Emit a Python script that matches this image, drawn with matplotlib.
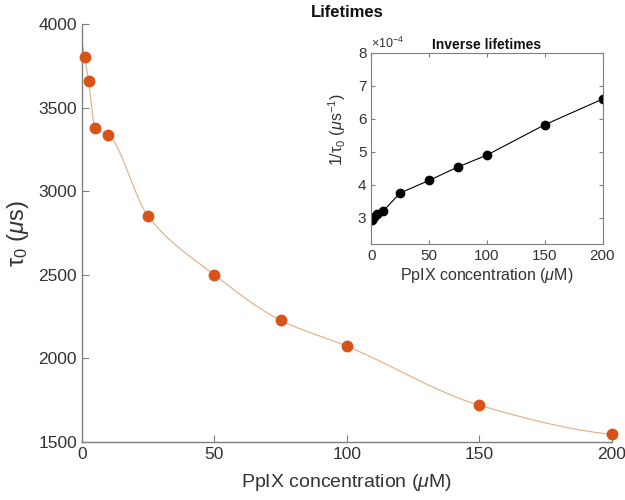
import numpy as np
import matplotlib
matplotlib.use("Agg")
import matplotlib.pyplot as plt

plt.rcParams['font.family'] = ['Liberation Sans', 'DejaVu Sans']
plt.rcParams['mathtext.fontset'] = 'custom'
plt.rcParams['mathtext.rm'] = 'Liberation Sans'
plt.rcParams['mathtext.it'] = 'Liberation Sans:italic'

# Data
conc = [1, 2.5, 5, 10, 25, 50, 75, 100, 150, 200]
tau0 = [3805, 3660, 3380, 3338, 2850, 2500, 2228, 2073, 1720, 1545]
inv_tau = [2.92, 3.02, 3.12, 3.19, 3.75, 4.13, 4.54, 4.90, 5.82, 6.60]  # x 1e-4
main_yticks = [1500, 2000, 2500, 3000, 3500, 4000]
xticks = [0, 50, 100, 150, 200]
inset_yticks = [3, 4, 5, 6, 7, 8]


def pchip(x, y, xn):
    x = np.asarray(x, float); y = np.asarray(y, float)
    h = np.diff(x); d = np.diff(y) / h
    n = len(x); m = np.zeros(n)
    for k in range(1, n - 1):
        if d[k - 1] * d[k] > 0:
            w1 = 2 * h[k] + h[k - 1]; w2 = h[k] + 2 * h[k - 1]
            m[k] = (w1 + w2) / (w1 / d[k - 1] + w2 / d[k])
    m[0] = ((2 * h[0] + h[1]) * d[0] - h[0] * d[1]) / (h[0] + h[1])
    m[-1] = ((2 * h[-1] + h[-2]) * d[-1] - h[-1] * d[-2]) / (h[-1] + h[-2])
    idx = np.clip(np.searchsorted(x, xn) - 1, 0, n - 2)
    t = (xn - x[idx]) / h[idx]
    h00 = 2 * t**3 - 3 * t**2 + 1; h10 = t**3 - 2 * t**2 + t
    h01 = -2 * t**3 + 3 * t**2; h11 = t**3 - t**2
    return h00 * y[idx] + h10 * h[idx] * m[idx] + h01 * y[idx + 1] + h11 * h[idx] * m[idx + 1]


fig = plt.figure(figsize=(6.25, 5), dpi=100)
ax = fig.add_axes([0.131, 0.116, 0.848, 0.836])
xs = np.linspace(0, 200, 800)
ys = pchip(conc, tau0, xs)
ax.plot(xs, ys, color='#e2b48e', lw=0.9, zorder=2)
ax.plot(conc, tau0, 'o', color='#d95319', ms=7.5, mec='#d95319', zorder=3, clip_on=False)
ax.set_xlim(0, 200)
ax.set_ylim(1500, 4000)
ax.set_xticks(xticks)
ax.set_yticks(main_yticks)
for s in ['top', 'right']:
    ax.spines[s].set_visible(False)
for s in ['left', 'bottom']:
    ax.spines[s].set_color('#7f7f7f')
    ax.spines[s].set_linewidth(1.0)
ax.tick_params(direction='in', length=5, colors='#7f7f7f', labelcolor='#333333', labelsize=12.5)
ax.set_xlabel(r'PpIX concentration ($\mu$M)', fontsize=14, color='#333333', labelpad=7)
ax.set_ylabel(r'τ$_0$ ($\mu$s)', fontsize=17, color='#333333', labelpad=5)
fig.text(0.555, 0.975, 'Lifetimes', ha='center', va='center', fontsize=12, fontweight='bold', color='#111111')

ins = fig.add_axes([0.594, 0.512, 0.37, 0.382])
ins.plot(conc, inv_tau, '-', color='black', lw=0.8)
ins.plot(conc, inv_tau, 'o', color='black', ms=6)
ins.set_xlim(0, 200)
ins.set_ylim(2.2, 8)
ins.set_xticks(xticks)
ins.set_yticks(inset_yticks)
for s in ins.spines.values():
    s.set_color('#7f7f7f')
    s.set_linewidth(0.8)
ins.tick_params(direction='in', length=3, colors='#7f7f7f', labelcolor='#333333', labelsize=11,
                top=True, right=True)
ins.set_xlabel(r'PpIX concentration ($\mu$M)', fontsize=11.5, color='#333333', labelpad=2)
ins.set_ylabel(r'1/τ$_0$ ($\mu$s$^{-1}$)', fontsize=11.5, color='#333333', labelpad=3)
ins.yaxis.set_label_coords(-0.1, 0.6)
ins.set_title('Inverse lifetimes', fontsize=10, fontweight='bold', color='#111111', pad=3)
ins.text(0.0, 1.01, r'$\times$10$^{-4}$', transform=ins.transAxes, ha='left', va='bottom',
         fontsize=9, color='#333333')

fig.savefig('out.png', dpi=100)
